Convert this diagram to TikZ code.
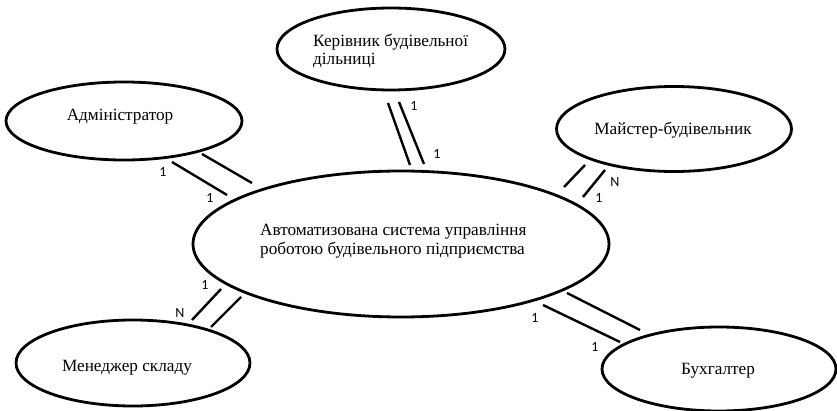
\documentclass[tikz,border=0pt]{standalone}
\usepackage{fontspec}
\setmainfont{Liberation Serif}
\newfontfamily\lblfont{Carlito}
\usetikzlibrary{shapes.geometric}
\begin{document}
\begin{tikzpicture}[x=1pt,y=-1pt,
  ent/.style={draw, ellipse, line width=2.8pt, inner sep=0pt},
  txt/.style={inner sep=0pt, font=\fontsize{17.2}{18.5}\selectfont, align=left},
  rel/.style={line width=2.4pt},
  card/.style={inner sep=0pt, font=\lblfont\fontsize{14}{14}\selectfont}]
\useasboundingbox (0,0) rectangle (837,411);
% entities
\node[ent, minimum width=228pt, minimum height=82pt] (kerivnyk) at (391,49) {};
\node[ent, minimum width=236pt, minimum height=78pt] (admin) at (124,121) {};
\node[ent, minimum width=235pt, minimum height=85pt] (maister) at (674,129) {};
\node[ent, minimum width=416pt, minimum height=146pt] (system) at (401,244) {};
\node[ent, minimum width=234pt, minimum height=86pt] (menedzher) at (133,363) {};
\node[ent, minimum width=234pt, minimum height=84pt] (bukhhalter) at (719,369) {};
% texts
\node[txt, anchor=west] (tk) at (313,51) {Керівник будівельної\\дільниці};
\node[txt] (ta) at (120,117) {Адміністратор};
\node[txt] (tm) at (673,130) {Майстер-будівельник};
\node[txt, anchor=west] (ts) at (260,241) {Автоматизована система управління\\роботою будівельного підприємства};
\node[txt] (tmen) at (127,368) {Менеджер складу};
\node[txt] (tb) at (718,371) {Бухгалтер};
% relation line endpoints
\coordinate (k1a) at (388,103); \coordinate (k2a) at (410,165);
\coordinate (k1b) at (399,102); \coordinate (k2b) at (424,164);
\coordinate (a1a) at (172,162); \coordinate (a2a) at (227,195);
\coordinate (a1b) at (202,154); \coordinate (a2b) at (252,183);
\coordinate (m1a) at (585,165); \coordinate (m2a) at (564,187);
\coordinate (m1b) at (605,170); \coordinate (m2b) at (583,197);
\coordinate (s1a) at (221,289); \coordinate (s2a) at (192,320);
\coordinate (s1b) at (241,297); \coordinate (s2b) at (211,327);
\coordinate (b1a) at (543,305); \coordinate (b2a) at (620,342);
\coordinate (b1b) at (567,293); \coordinate (b2b) at (640,330);
\draw[rel] (k1a) -- (k2a); \draw[rel] (k1b) -- (k2b);
\draw[rel] (a1a) -- (a2a); \draw[rel] (a1b) -- (a2b);
\draw[rel] (m1a) -- (m2a); \draw[rel] (m1b) -- (m2b);
\draw[rel] (s1a) -- (s2a); \draw[rel] (s1b) -- (s2b);
\draw[rel] (b1a) -- (b2a); \draw[rel] (b1b) -- (b2b);
% cardinalities
\node[card] (ck1) at (414,106) {1};
\node[card] (ck2) at (437,154) {1};
\node[card] (ca1) at (163,172) {1};
\node[card] (ca2) at (210,198) {1};
\node[card] (cm1) at (615,182) {N};
\node[card] (cm2) at (599,198) {1};
\node[card] (cs1) at (205,285) {1};
\node[card] (cs2) at (180,313) {N};
\node[card] (cb1) at (535,318) {1};
\node[card] (cb2) at (595,347) {1};
\end{tikzpicture}
\end{document}
